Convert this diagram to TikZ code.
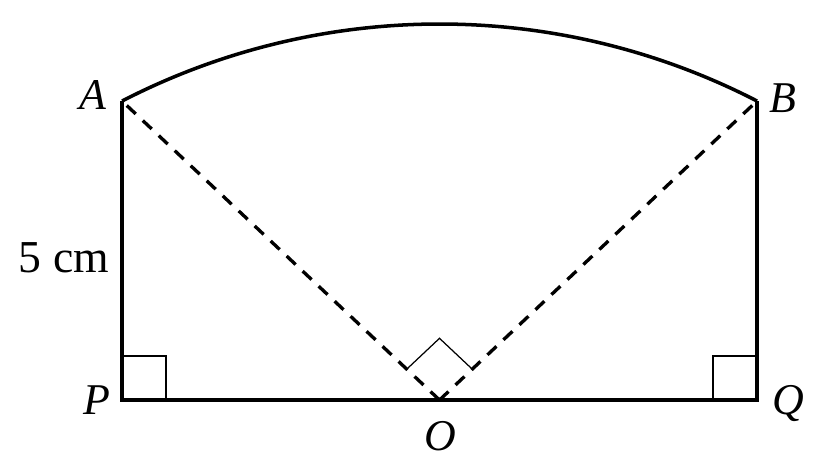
\documentclass[tikz,border=0pt]{standalone}
\usepackage{fontspec}
\setmainfont{Liberation Serif}
\usetikzlibrary{calc}

\begin{document}
\begin{tikzpicture}[x=0.02cm,y=0.02cm,
    edge/.style={line width=2pt},
    dashedge/.style={line width=1.9pt,dash pattern=on 7pt off 5.5pt},
    thinline/.style={line width=0.7pt},
    lbl/.style={font=\fontsize{25}{29}\selectfont\itshape,anchor=base,inner sep=0pt},
    lenlbl/.style={font=\fontsize{26}{30}\selectfont,anchor=base,inner sep=0pt}]
      \useasboundingbox (0,0) rectangle (827,467);

      \coordinate (A) at (122,366);
      \coordinate (B) at (757,366);
      \coordinate (P) at (122,67);
      \coordinate (Q) at (757,67);
      \coordinate (O) at (439.5,67);

      \node[lbl] (lA) at (93,357) {A};
      \node[lbl] (lB) at (783,354) {B};
      \node[lbl] (lP) at (97,53) {P};
      \node[lbl] (lQ) at (788,53) {Q};
      \node[lbl] (lO) at (440,17) {O};
      \node[lenlbl] (len) at (64,195) {5 cm};

      \draw[dashedge] (O) -- (A);
      \draw[dashedge] (O) -- (B);

      \draw[edge] (A) -- (P) -- (Q) -- (B);
      \draw[edge] (B) arc[start angle=62.73,end angle=117.27,radius=13.86cm];

      \draw[thinline] (P) ++(0,44) -| ++(44,-44);
      \draw[thinline] (Q) ++(0,44) -| ++(-44,-44);

      \coordinate (oa) at ($(O)!0.9cm!(A)$);
      \coordinate (ob) at ($(O)!0.9cm!(B)$);
      \draw[thinline] (oa) -- ($(oa)+(ob)-(O)$) -- (ob);
    \end{tikzpicture}
\end{document}
